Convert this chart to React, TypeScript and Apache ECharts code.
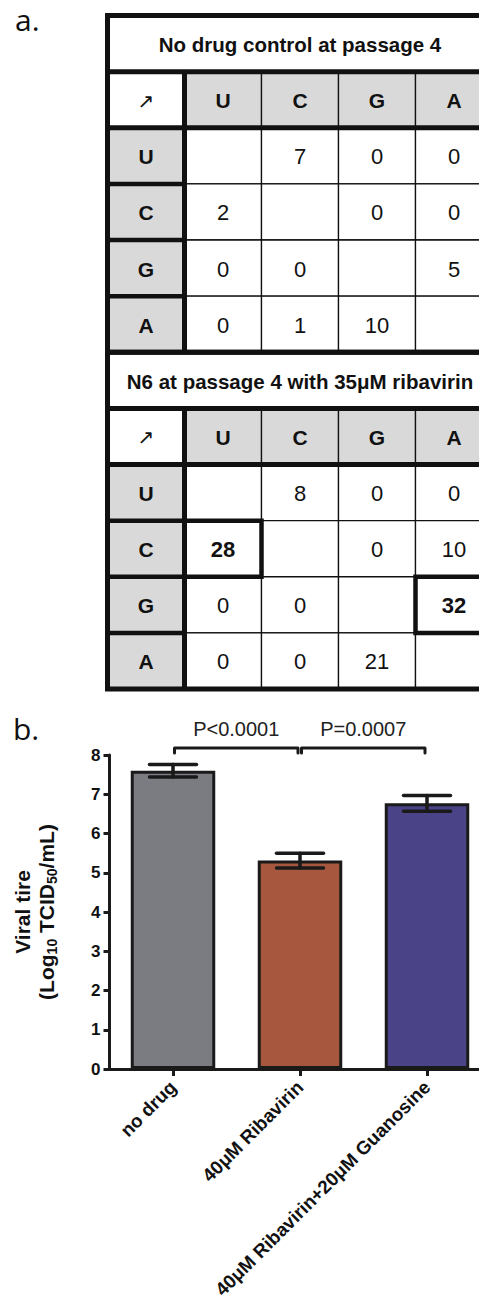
import React, { useEffect, useRef } from "react";
import * as echarts from "echarts";

const FONT = '"Liberation Sans", Arial, Helvetica, sans-serif';

// ---------- panel a: substitution tables ----------
const tableTitles = ["No drug control at passage 4", "N6 at passage 4 with 35μM ribavirin"];
const bases = ["U", "C", "G", "A"];
const cornerMark = "↗";
const controlCounts: (number | null)[][] = [
  [null, 7, 0, 0],
  [2, null, 0, 0],
  [0, 0, null, 5],
  [0, 1, 10, null],
];
const ribavirinCounts: (number | null)[][] = [
  [null, 8, 0, 0],
  [28, null, 0, 10],
  [0, 0, null, 32],
  [0, 0, 21, null],
];
const controlHighlights: number[][] = [];
const ribavirinHighlights: number[][] = [
  [1, 0],
  [2, 3],
]; // [row, col]

// ---------- panel b: viral titre ----------
const categories = ["no drug", "40μM Ribavirin", "40μM Ribavirin+20μM Guanosine"];
const titreMeans = [7.6, 5.31, 6.77];
const titreErrors = [0.16, 0.19, 0.2];
const barColors = ["#7b7c81", "#a8573f", "#4a4387"];
const comparisons = [
  { from: 0, to: 1, label: "P<0.0001" },
  { from: 1, to: 2, label: "P=0.0007" },
];
const bracketLevel = 8.18;

type Cell = { col: number; row: number; kind: string; text: string };

function buildCells() {
  const tables = [
    { title: tableTitles[0], counts: controlCounts, hl: controlHighlights },
    { title: tableTitles[1], counts: ribavirinCounts, hl: ribavirinHighlights },
  ];
  const cells: Cell[] = [];
  const highlights: number[][] = [];
  const rowNames: string[] = [];
  tables.forEach((t, ti) => {
    const r0 = ti * 6;
    rowNames.push(`t${ti}-title`, `t${ti}-head`, ...bases.map((b) => `t${ti}-${b}`));
    cells.push({ col: 0, row: r0, kind: "title", text: t.title });
    cells.push({ col: 0, row: r0 + 1, kind: "corner", text: cornerMark });
    bases.forEach((b, i) => cells.push({ col: i + 1, row: r0 + 1, kind: "colhead", text: b }));
    bases.forEach((b, i) => {
      cells.push({ col: 0, row: r0 + 2 + i, kind: "rowhead", text: b });
      t.counts[i].forEach((v, j) => {
        const isHl = t.hl.some((h) => h[0] === i && h[1] === j);
        cells.push({
          col: j + 1,
          row: r0 + 2 + i,
          kind: isHl ? "hl" : "cell",
          text: v == null ? "" : String(v),
        });
        if (isHl) highlights.push([j + 1, r0 + 2 + i]);
      });
    });
  });
  return { cells, highlights, rowNames, tableStarts: tables.map((_, i) => i * 6) };
}

export default function App() {
  const ref = useRef<HTMLDivElement>(null);

  useEffect(() => {
    if (!ref.current) return;
    const chart = echarts.init(ref.current, undefined, { renderer: "svg" });
    const { cells, highlights, rowNames, tableStarts } = buildCells();
    const colNames = ["corner", ...bases];

    const textStyleFor = (kind: string) => {
      switch (kind) {
        case "title":
          return { fontSize: 20.5, fontWeight: "bold", fontFamily: FONT };
        case "corner":
          return { fontSize: 20, fontWeight: "normal", fontFamily: '"DejaVu Sans", sans-serif' };
        case "colhead":
        case "rowhead":
          return { fontSize: 21, fontWeight: "bold", fontFamily: FONT };
        case "hl":
          return { fontSize: 22, fontWeight: "bold", fontFamily: FONT };
        default:
          return { fontSize: 22, fontWeight: "normal", fontFamily: FONT };
      }
    };

    const option: any = {
      animation: false,
      backgroundColor: "#ffffff",
      grid: [
        { left: 107.5, top: 15.5, width: 385, height: 673.5, containLabel: false, outerBoundsMode: "none" },
        { left: 109.5, top: 755, width: 381, height: 314, containLabel: false, outerBoundsMode: "none" },
      ],
      xAxis: [
        { gridIndex: 0, type: "category", data: colNames, show: false },
        {
          gridIndex: 1,
          type: "category",
          data: categories,
          axisLine: { show: true, lineStyle: { color: "#1a1a1a", width: 3 } },
          axisTick: { show: true, alignWithLabel: true, length: 7, lineStyle: { color: "#1a1a1a", width: 3 } },
          axisLabel: {
            interval: 0,
            rotate: 45,
            margin: 15,
            fontSize: 18.8,
            fontWeight: "bold",
            fontFamily: FONT,
            color: "#111",
          },
          splitLine: { show: false },
        },
      ],
      yAxis: [
        { gridIndex: 0, type: "category", data: rowNames, inverse: true, show: false },
        {
          gridIndex: 1,
          type: "value",
          min: 0,
          max: 8,
          interval: 1,
          axisLine: { show: true, lineStyle: { color: "#1a1a1a", width: 3 } },
          axisTick: { show: true, length: 6, lineStyle: { color: "#1a1a1a", width: 3 } },
          axisLabel: { fontSize: 17, fontWeight: "bold", fontFamily: FONT, color: "#111", margin: 9 },
          splitLine: { show: false },
          name: "{b|Viral tire}\n{b|(Log}{s|10}{b| TCID}{s|50}{b|/mL)}",
          nameLocation: "middle",
          nameRotate: 90,
          nameGap: 51,
          nameTextStyle: {
            color: "#111",
            align: "center",
            rich: {
              b: { fontSize: 21, fontWeight: "bold", fontFamily: FONT, color: "#111", lineHeight: 24 },
              s: {
                fontSize: 14,
                fontWeight: "bold",
                fontFamily: FONT,
                color: "#111",
                lineHeight: 14,
                padding: [11, 0, 0, 0],
              },
            },
          },
        },
      ],
      graphic: [
        {
          type: "text",
          x: 15,
          y: 19,
          style: {
            text: "a.",
            fontSize: 30,
            fontFamily: '"Open Sans", sans-serif',
            fill: "#111",
            verticalAlign: "middle",
          },
        },
        {
          type: "text",
          x: 13,
          y: 728,
          style: {
            text: "b.",
            fontSize: 30,
            fontFamily: '"Open Sans", sans-serif',
            fill: "#111",
            verticalAlign: "middle",
          },
        },
      ],
      series: [
        // table cells
        {
          type: "custom",
          xAxisIndex: 0,
          yAxisIndex: 0,
          clip: false,
          z: 2,
          data: cells.map((c) => [c.col, c.row]),
          renderItem: (params: any, api: any) => {
            const cell = cells[params.dataIndex];
            const cs = params.coordSys;
            const c = api.coord([api.value(0), api.value(1)]);
            const sz = api.size([1, 1]);
            const w = sz[0];
            const h = sz[1];
            let x0 = c[0] - w / 2;
            let rw = w;
            let tx = c[0];
            if (cell.kind === "title") {
              x0 = cs.x;
              rw = cs.width;
              tx = cs.x + cs.width / 2;
            }
            const gray = cell.kind === "colhead" || cell.kind === "rowhead";
            return {
              type: "group",
              children: [
                {
                  type: "rect",
                  shape: { x: x0, y: c[1] - h / 2, width: rw, height: h },
                  style: { fill: gray ? "#d9d9d9" : "#ffffff", stroke: "#111", lineWidth: 1.3 },
                },
                {
                  type: "text",
                  style: {
                    text: cell.text,
                    x: tx,
                    y: c[1] + 1,
                    align: "center",
                    verticalAlign: "middle",
                    fill: "#111",
                    ...textStyleFor(cell.kind),
                  },
                },
              ],
            };
          },
        },
        // highlighted cells
        {
          type: "custom",
          xAxisIndex: 0,
          yAxisIndex: 0,
          clip: false,
          z: 3,
          data: highlights,
          renderItem: (params: any, api: any) => {
            const c = api.coord([api.value(0), api.value(1)]);
            const sz = api.size([1, 1]);
            return {
              type: "rect",
              shape: { x: c[0] - sz[0] / 2, y: c[1] - sz[1] / 2, width: sz[0], height: sz[1] },
              style: { fill: "none", stroke: "#111", lineWidth: 4.5 },
            };
          },
        },
        // structural thick frame lines
        {
          type: "custom",
          xAxisIndex: 0,
          yAxisIndex: 0,
          clip: false,
          z: 4,
          data: tableStarts.map((r) => [0, r]),
          renderItem: (params: any, api: any) => {
            const cs = params.coordSys;
            const r0 = api.value(1);
            const sz = api.size([1, 1]);
            const h = sz[1];
            const w = sz[0];
            const top = api.coord([0, r0])[1] - h / 2;
            const left = cs.x;
            const right = cs.x + cs.width;
            const col0Right = left + w;
            const bottom = top + 6 * h;
            const thick = { stroke: "#111", lineWidth: 5 };
            const children: any[] = [
              {
                type: "rect",
                shape: { x: left, y: top, width: right - left, height: bottom - top },
                style: { fill: "none", ...thick },
              },
              { type: "line", shape: { x1: left, y1: top + h, x2: right, y2: top + h }, style: thick },
              { type: "line", shape: { x1: left, y1: top + 2 * h, x2: right, y2: top + 2 * h }, style: thick },
              { type: "line", shape: { x1: col0Right, y1: top + h, x2: col0Right, y2: bottom }, style: thick },
            ];
            for (let k = 3; k < 6; k++) {
              children.push({
                type: "line",
                shape: { x1: left, y1: top + k * h, x2: col0Right, y2: top + k * h },
                style: { stroke: "#111", lineWidth: 4.5 },
              });
            }
            return { type: "group", children };
          },
        },
        // bars
        {
          type: "bar",
          xAxisIndex: 1,
          yAxisIndex: 1,
          barWidth: 84.5,
          z: 2,
          itemStyle: { borderColor: "#1a1a1a", borderWidth: 3 },
          data: titreMeans.map((v, i) => ({ value: v, itemStyle: { color: barColors[i] } })),
        },
        // error bars
        {
          type: "custom",
          xAxisIndex: 1,
          yAxisIndex: 1,
          clip: false,
          z: 5,
          data: titreMeans.map((m, i) => [i, m, titreErrors[i]]),
          encode: { x: 0, y: 1 },
          renderItem: (params: any, api: any) => {
            const i = api.value(0);
            const m = api.value(1);
            const e = api.value(2);
            const hi = api.coord([i, m + e]);
            const lo = api.coord([i, m - e]);
            const hw = api.size([1, 0])[0] * 0.185;
            const st = { stroke: "#1a1a1a", lineWidth: 3.5, lineCap: "round" };
            return {
              type: "group",
              children: [
                { type: "line", shape: { x1: hi[0], y1: hi[1], x2: lo[0], y2: lo[1] }, style: st },
                { type: "line", shape: { x1: hi[0] - hw, y1: hi[1], x2: hi[0] + hw, y2: hi[1] }, style: st },
                { type: "line", shape: { x1: lo[0] - hw, y1: lo[1], x2: lo[0] + hw, y2: lo[1] }, style: st },
              ],
            };
          },
        },
        // significance brackets
        {
          type: "custom",
          xAxisIndex: 1,
          yAxisIndex: 1,
          clip: false,
          z: 5,
          data: comparisons.map((c) => [c.from, c.to, bracketLevel]),
          encode: { x: [0, 1], y: 2 },
          renderItem: (params: any, api: any) => {
            const comp = comparisons[params.dataIndex];
            const p1 = api.coord([api.value(0), api.value(2)]);
            const p2 = api.coord([api.value(1), api.value(2)]);
            const x1 = p1[0] + 1.5;
            const x2 = p2[0] - 2;
            const y = p1[1];
            return {
              type: "group",
              children: [
                {
                  type: "polyline",
                  shape: {
                    points: [
                      [x1, y + 5],
                      [x1, y],
                      [x2, y],
                      [x2, y + 5],
                    ],
                  },
                  style: { stroke: "#1a1a1a", lineWidth: 3, fill: "none", lineJoin: "round", lineCap: "round" },
                },
                {
                  type: "text",
                  style: {
                    text: comp.label,
                    x: (x1 + x2) / 2,
                    y: y - 18.5,
                    align: "center",
                    verticalAlign: "middle",
                    fontSize: 20,
                    fontFamily: FONT,
                    fill: "#222",
                  },
                },
              ],
            };
          },
        },
      ],
    };

    chart.setOption(option);
    return () => {
      chart.dispose();
    };
  }, []);

  return (
    <div
      ref={ref}
      style={{ position: "absolute", left: 0, top: 0, width: 479, height: 1307, background: "#fff" }}
    />
  );
}
